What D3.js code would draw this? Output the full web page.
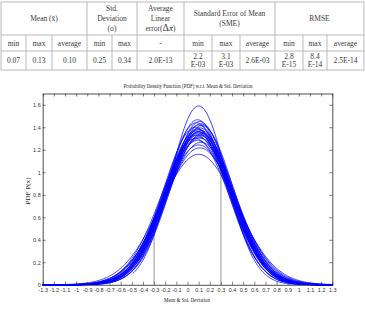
<!DOCTYPE html>
<html>
<head>
<meta charset="utf-8">
<script src="https://cdn.jsdelivr.net/npm/d3@7"></script>
<style>
  body { margin: 0; background: #fff; }
  svg { display: block; }
</style>
</head>
<body>
<script>
// ---- table data ----
var groupLabels = [["Mean (x\u0304)"], ["Std.", "Deviation", "(\u03c3)"], ["Average", "Linear", "error(\u0394x\u0304)"],
                   ["Standard Error of Mean", "(SME)"], ["RMSE"]];
var groupSpans = [3, 2, 1, 3, 3];
var subLabels = ["min", "max", "average", "min", "max", "-", "min", "max", "average", "min", "max", "average"];
var cellValues = [["0.07"], ["0.13"], ["0.10"], ["0.25"], ["0.34"], ["2.0E-13"], ["2.2", "E-03"], ["3.1", "E-03"],
                  ["2.6E-03"], ["2.8", "E-15"], ["8.4", "E-14"], ["2.5E-14"]];

// ---- chart data: one normal PDF per run (mean, std, first x plotted) ----
var curveMeans = [0.10, 0.09, 0.11, 0.08, 0.12, 0.10, 0.13, 0.07, 0.11, 0.09, 0.10, 0.12, 0.08, 0.10,
                  0.11, 0.09, 0.13, 0.10, 0.08, 0.12, 0.10, 0.11, 0.07, 0.09, 0.12, 0.10, 0.11, 0.10];
var curveSigmas = [0.251, 0.272, 0.275, 0.277, 0.279, 0.281, 0.282, 0.285, 0.286, 0.288, 0.289, 0.291, 0.292, 0.293,
                   0.294, 0.296, 0.297, 0.299, 0.300, 0.301, 0.304, 0.306, 0.307, 0.311, 0.315, 0.321, 0.328, 0.344];
var curveStarts = [-0.49, -0.45, -1.3, -1.3, -1.3, -1.3, -1.3, -1.3, -1.3, -1.3, -1.3, -1.3, -1.3, -1.3,
                   -1.3, -1.3, -1.3, -1.3, -1.3, -1.3, -1.3, -1.3, -1.3, -1.3, -1.3, -1.3, -1.3, -1.3];
var markerX = [-0.3, 0.3];
var markerY = [0.47, 1.08];
var xTicks = [-1.3, -1.2, -1.1, -1, -0.9, -0.8, -0.7, -0.6, -0.5, -0.4, -0.3, -0.2, -0.1, 0,
              0.1, 0.2, 0.3, 0.4, 0.5, 0.6, 0.7, 0.8, 0.9, 1, 1.1, 1.2, 1.3];
var yTicks = [0, 0.2, 0.4, 0.6, 0.8, 1, 1.2, 1.4, 1.6];

var svg = d3.select("body").append("svg")
    .attr("width", 365)
    .attr("height", 310);

// ---- table ----
var colEdges = [1, 26, 52, 87, 112, 137, 184, 212, 240, 275, 303, 327, 364];
var rowEdges = [2, 35, 51, 70];
var tbl = svg.append("g").attr("font-family", "Liberation Serif, Times New Roman, serif")
    .attr("font-size", 7.5).attr("fill", "#3a3a3a").attr("text-anchor", "middle");
var lineColor = "#a8a8a8";

tbl.append("rect").attr("x", colEdges[0]).attr("y", rowEdges[0])
    .attr("width", colEdges[12] - colEdges[0]).attr("height", rowEdges[3] - rowEdges[0])
    .attr("fill", "none").attr("stroke", lineColor).attr("stroke-width", 0.8);
tbl.selectAll("line.h").data([rowEdges[1], rowEdges[2]]).enter().append("line")
    .attr("x1", colEdges[0]).attr("x2", colEdges[12]).attr("y1", function(d) { return d; }).attr("y2", function(d) { return d; })
    .attr("stroke", lineColor).attr("stroke-width", 0.8);

var starts = [];
var acc = 0;
groupSpans.forEach(function(s) { starts.push(acc); acc += s; });
// vertical lines: group borders go full height, inner ones only lower rows
colEdges.slice(1, 12).forEach(function(x, i) {
    var isGroup = starts.indexOf(i + 1) >= 0;
    tbl.append("line").attr("x1", x).attr("x2", x)
        .attr("y1", isGroup ? rowEdges[0] : rowEdges[1]).attr("y2", rowEdges[3])
        .attr("stroke", lineColor).attr("stroke-width", 0.8);
});

function writeLines(g, lines, cx, cy, step) {
    var n = lines.length;
    lines.forEach(function(t, k) {
        var yy = cy + (k - (n - 1) / 2) * step;
        var txt = g.append("text").attr("x", cx).attr("y", yy).attr("dy", "0.35em");
        if (t.indexOf("\u0394") >= 0) {
            var p = t.split("\u0394");
            txt.append("tspan").text(p[0]);
            txt.append("tspan").attr("font-size", 10).text("\u0394");
            txt.append("tspan").attr("font-size", 9).attr("font-style", "italic").text(p[1].replace(")", ""));
            txt.append("tspan").text(")");
        } else {
            txt.text(t);
        }
    });
}

groupLabels.forEach(function(lines, gi) {
    var x0 = colEdges[starts[gi]], x1 = colEdges[starts[gi] + groupSpans[gi]];
    writeLines(tbl, lines, (x0 + x1) / 2, (rowEdges[0] + rowEdges[1]) / 2, 10);
});
subLabels.forEach(function(t, i) {
    writeLines(tbl, [t], (colEdges[i] + colEdges[i + 1]) / 2, (rowEdges[1] + rowEdges[2]) / 2, 9);
});
cellValues.forEach(function(lines, i) {
    writeLines(tbl, lines, (colEdges[i] + colEdges[i + 1]) / 2, (rowEdges[2] + rowEdges[3]) / 2, 8);
});

// ---- chart ----
var plotLeft = 42.7, plotRight = 332.3, plotTop = 93.5, plotBottom = 284.8;
var x = d3.scaleLinear().domain([-1.3, 1.3]).range([plotLeft, plotRight]);
var y = d3.scaleLinear().domain([0, 1.7]).range([plotBottom, plotTop]);
var fmt = function(d) { return String(+d.toFixed(1)); };

var axisFont = "Liberation Sans Narrow, Liberation Sans, Arial, sans-serif";

function styleAxis(g) {
    g.selectAll("path").attr("stroke", "#222").attr("stroke-width", 0.8);
    g.selectAll("line").attr("stroke", "#222").attr("stroke-width", 0.6);
    g.selectAll("text").attr("fill", "#333").attr("font-family", axisFont).attr("font-size", 5.5);
}

svg.append("g").attr("transform", "translate(0," + plotBottom + ")")
    .call(d3.axisBottom(x).tickValues(xTicks).tickFormat(fmt).tickSizeInner(-3).tickSizeOuter(0).tickPadding(3))
    .call(styleAxis);
svg.append("g").attr("transform", "translate(0," + plotTop + ")")
    .call(d3.axisTop(x).tickValues(xTicks).tickFormat("").tickSizeInner(-3).tickSizeOuter(0))
    .call(styleAxis);
svg.append("g").attr("transform", "translate(" + plotLeft + ",0)")
    .call(d3.axisLeft(y).tickValues(yTicks).tickFormat(fmt).tickSizeInner(-3).tickSizeOuter(0).tickPadding(2))
    .call(styleAxis);
svg.append("g").attr("transform", "translate(" + plotRight + ",0)")
    .call(d3.axisRight(y).tickValues(yTicks).tickFormat("").tickSizeInner(-3).tickSizeOuter(0))
    .call(styleAxis);

// marker lines at mean +/- std
svg.selectAll("line.marker").data(markerX).enter().append("line")
    .attr("class", "marker")
    .attr("x1", function(d) { return x(d); }).attr("x2", function(d) { return x(d); })
    .attr("y1", y(0)).attr("y2", function(d, i) { return y(markerY[i]); })
    .attr("stroke", "#7a7a7a").attr("stroke-width", 0.8);

var line = d3.line()
    .x(function(d) { return x(d[0]); })
    .y(function(d) { return y(d[1]); });

function pdfPoints(m, s, x0) {
    var pts = [];
    for (var v = x0; v <= 1.3001; v += 0.01) {
        pts.push([v, Math.exp(-0.5 * Math.pow((v - m) / s, 2)) / (s * Math.sqrt(2 * Math.PI))]);
    }
    return pts;
}

svg.append("g").selectAll("path")
    .data(curveMeans)
    .enter()
    .append("path")
    .attr("d", function(m, i) { return line(pdfPoints(m, curveSigmas[i], curveStarts[i])); })
    .attr("fill", "none")
    .attr("stroke", "#0000ff")
    .attr("stroke-width", 0.75);

// titles
svg.append("text")
    .attr("x", (plotLeft + plotRight) / 2 + 0.5).attr("y", 88)
    .attr("text-anchor", "middle")
    .attr("font-family", "Liberation Serif, serif").attr("font-size", 6.5).attr("fill", "#222")
    .attr("textLength", 129).attr("lengthAdjust", "spacingAndGlyphs")
    .text("Probability Density Function (PDF) w.r.t. Mean & Std. Deviation");

svg.append("text")
    .attr("x", 187).attr("y", 302)
    .attr("text-anchor", "middle")
    .attr("font-family", "Liberation Serif, serif").attr("font-size", 6.5).attr("fill", "#222")
    .attr("textLength", 46).attr("lengthAdjust", "spacingAndGlyphs")
    .text("Mean & Std. Deviation");

svg.append("text")
    .attr("transform", "translate(30,191) rotate(-90)")
    .attr("text-anchor", "middle")
    .attr("font-family", "Liberation Serif, serif").attr("font-size", 6.5).attr("fill", "#222")
    .attr("textLength", 27).attr("lengthAdjust", "spacingAndGlyphs")
    .text("PDF P(x)");
</script>
</body>
</html>
